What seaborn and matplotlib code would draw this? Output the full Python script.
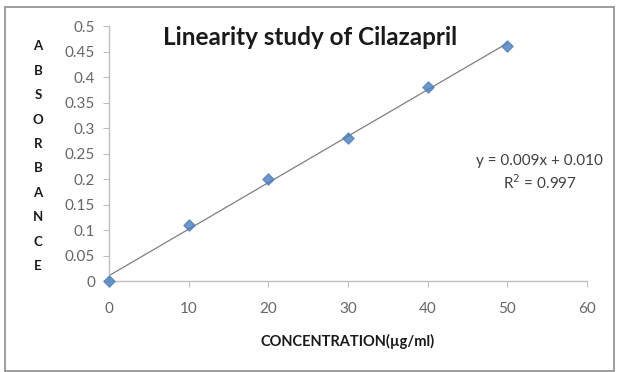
import numpy as np
import pandas as pd
import seaborn as sns
import matplotlib.pyplot as plt
from matplotlib.patches import Rectangle

# data
concentration = [0, 10, 20, 30, 40, 50]
absorbance = [0.0, 0.11, 0.20, 0.28, 0.38, 0.46]
x_ticks = [0, 10, 20, 30, 40, 50, 60]
y_ticks = [0, 0.05, 0.1, 0.15, 0.2, 0.25, 0.3, 0.35, 0.4, 0.45, 0.5]
y_tick_labels = ['0', '0.05', '0.1', '0.15', '0.2', '0.25', '0.3', '0.35', '0.4', '0.45', '0.5']
equation_text = 'y = 0.009x + 0.010\nR$^2$ = 0.997'

df = pd.DataFrame({'conc': concentration, 'abs': absorbance})

sns.set_style('white')
plt.rcParams['font.family'] = ['Lato', 'DejaVu Sans']

fig = plt.figure(figsize=(6.21, 3.72), dpi=100)
ax = fig.add_axes([0.1755, 0.2446, 0.7695, 0.6854])

sns.regplot(data=df, x='conc', y='abs', ci=None, ax=ax, marker='D',
            scatter_kws={'s': 32, 'color': '#4a7ebb', 'edgecolor': '#4a7ebb',
                         'zorder': 3, 'clip_on': False},
            line_kws={'color': '#7f7f7f', 'linewidth': 0.9, 'zorder': 2})

ax.set_xlim(0, 60)
ax.set_ylim(0, 0.5)
ax.set_xticks(x_ticks)
ax.set_yticks(y_ticks)
ax.set_yticklabels(y_tick_labels)
ax.tick_params(colors='#666666', labelsize=11, length=4, width=0.8,
               left=True, bottom=True, direction='out')
ax.tick_params(axis='x', pad=11, color='#bfbfbf')
ax.tick_params(axis='y', pad=6, color='#bfbfbf')
for s in ['top', 'right']:
    ax.spines[s].set_visible(False)
for s in ['left', 'bottom']:
    ax.spines[s].set_color('#bfbfbf')
    ax.spines[s].set_linewidth(1.0)
ax.set_xlabel('')
ax.set_ylabel('')

fig.text(0.499, 0.898, 'Linearity study of Cilazapril', fontsize=17.5,
         fontweight='bold', ha='center', va='center', color='#1a1a1a')
fig.text(0.559, 0.081, 'CONCENTRATION(µg/ml)', fontsize=10.5,
         fontweight='bold', ha='center', va='center', color='#1a1a1a')
fig.text(0.061, 0.58, '\n'.join('ABSORBANCE'), fontsize=9.5,
         fontweight='bold', ha='center', va='center', linespacing=2.24, color='#1a1a1a')
ax.text(54.1, 0.212, equation_text, fontsize=11, ha='center', va='center',
        color='#404040', linespacing=1.3)

fig.patches.append(Rectangle((0.008, 0.003), 0.981, 0.978, transform=fig.transFigure,
                             fill=False, edgecolor='#8c8c8c', linewidth=1.2))

fig.savefig('out.png', dpi=100)
